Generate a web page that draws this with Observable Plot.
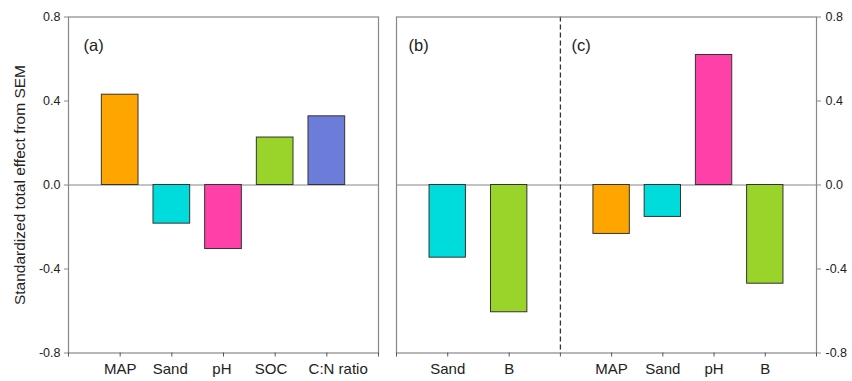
<!DOCTYPE html>
<html>
<head>
<meta charset="utf-8">
<script src="https://cdn.jsdelivr.net/npm/d3@7"></script>
<script src="https://cdn.jsdelivr.net/npm/@observablehq/plot@0.6"></script>
<style>
  body { margin: 0; background: #fff; }
  #wrap { position: relative; width: 852px; height: 381px; display: flex; font-family: "Liberation Sans", Arial, sans-serif; }
  #wrap svg { display: block; }
</style>
</head>
<body>
<div id="wrap"></div>
<script>
// ---- data ----
const catsA = ["MAP", "Sand", "pH", "SOC", "C:N ratio"];
const valsA = [0.43, -0.184, -0.305, 0.226, 0.327];
const catsB = ["Sand", "B"];
const valsB = [-0.346, -0.606];
const catsC = ["MAP", "Sand", "pH", "B"];
const valsC = [-0.233, -0.152, 0.619, -0.470];
const yTicks = [-0.8, -0.4, 0.0, 0.4, 0.8];
const yTitle = "Standardized total effect from SEM";
const panelLabels = ["(a)", "(b)", "(c)"];

// ---- styles / layout ----
const colorOf = {"MAP": "#FFA500", "Sand": "#00DCDC", "pH": "#FF40A8", "SOC": "#9AD32A", "B": "#9AD32A", "C:N ratio": "#6B7CD9"};
const labelShiftA = [0, -0.03, -0.03, -0.08, 0.22]; // small horizontal label offsets (axis units), as in the original
const halfW = 0.355;
const fmt = d => d.toFixed(1);
const font = "'Liberation Sans', Arial, sans-serif";
const frameColor = "#888";
const common = {
  height: 381, marginTop: 16.5, marginBottom: 28.5,
  y: {domain: [-0.8, 0.8]},
  style: {fontFamily: font, color: "#222", background: "#fff", overflow: "visible"}
};

// panel (a): positions 1..5 on a 0..6 axis
const dataA = catsA.map((c, i) => ({cat: c, pos: i + 1, value: valsA[i], lpos: i + 1 + labelShiftA[i]}));
// panels (b)+(c) share one axis: (b) at 1, 2.2; divider at 3.2; (c) at 4.2..7.2; axis 0..8.2
const divider = 3.2;
const dataB = catsB.map((c, i) => ({cat: c, pos: 1 + 1.2 * i, value: valsB[i]}));
const dataC = catsC.map((c, i) => ({cat: c, pos: divider + 1 + i, value: valsC[i]}));
const dataBC = dataB.concat(dataC);

function barMarks(data) {
  return Plot.rect(data, {
    x1: d => d.pos - halfW, x2: d => d.pos + halfW,
    y1: () => 0, y2: "value",
    fill: d => colorOf[d.cat], stroke: "#333", strokeWidth: 1
  });
}
function labelOf(data) {
  return p => { const d = data.find(d => Math.abs(d.pos - p) < 1e-6); return d ? d.cat : ""; };
}

const plotA = Plot.plot({
  ...common,
  width: 390, marginLeft: 68, marginRight: 12,
  x: {domain: [0, 6]},
  marks: [
    Plot.ruleY([0], {stroke: frameColor, strokeWidth: 1.2}),
    barMarks(dataA),
    Plot.frame({stroke: frameColor, strokeWidth: 1.2}),
    Plot.axisY({ticks: yTicks, tickFormat: fmt, tickSize: 4, tickPadding: 4, fontSize: 12.5, stroke: frameColor, label: null}),
    Plot.axisX({ticks: d3.range(0, 7), tickFormat: () => "", tickSize: 4, stroke: "#555", label: null}),
    Plot.text(dataA, {x: "lpos", text: "cat", frameAnchor: "bottom", lineAnchor: "top", dy: 10, fontSize: 15, fill: "#222"}),
    Plot.text([yTitle], {frameAnchor: "left", textAnchor: "middle", rotate: -90, dx: -48, fontSize: 15.5, fill: "#222"}),
    Plot.text([panelLabels[0]], {frameAnchor: "top-left", textAnchor: "start", dx: 15, dy: 22.5, fontSize: 16.5, fill: "#222"})
  ]
});

const plotBC = Plot.plot({
  ...common,
  width: 462, marginLeft: 6, marginRight: 36,
  x: {domain: [0, 8.2]},
  marks: [
    Plot.ruleY([0], {stroke: frameColor, strokeWidth: 1.2}),
    barMarks(dataBC),
    Plot.ruleX([divider], {stroke: "#333", strokeWidth: 1.3, strokeDasharray: "5,3"}),
    Plot.frame({stroke: frameColor, strokeWidth: 1.2}),
    Plot.axisY({anchor: "right", ticks: yTicks, tickFormat: fmt, tickSize: 4, tickPadding: 5, fontSize: 12.5, stroke: frameColor, label: null}),
    Plot.axisX({ticks: [0, divider, 8.2].concat(dataBC.map(d => d.pos)), tickFormat: () => "", tickSize: 4, stroke: "#555", label: null}),
    Plot.axisX({ticks: dataBC.map(d => d.pos), tickFormat: labelOf(dataBC), tickSize: 0, tickPadding: 10, fontSize: 15, label: null}),
    Plot.text([panelLabels[1]], {frameAnchor: "top-left", textAnchor: "start", dx: 12, dy: 22.5, fontSize: 16.5, fill: "#222"}),
    Plot.text([panelLabels[2]], {x: divider, frameAnchor: "top", textAnchor: "start", dx: 11, dy: 22.5, fontSize: 16.5, fill: "#222"})
  ]
});

const wrap = document.getElementById("wrap");
wrap.appendChild(plotA);
wrap.appendChild(plotBC);
</script>
</body>
</html>
